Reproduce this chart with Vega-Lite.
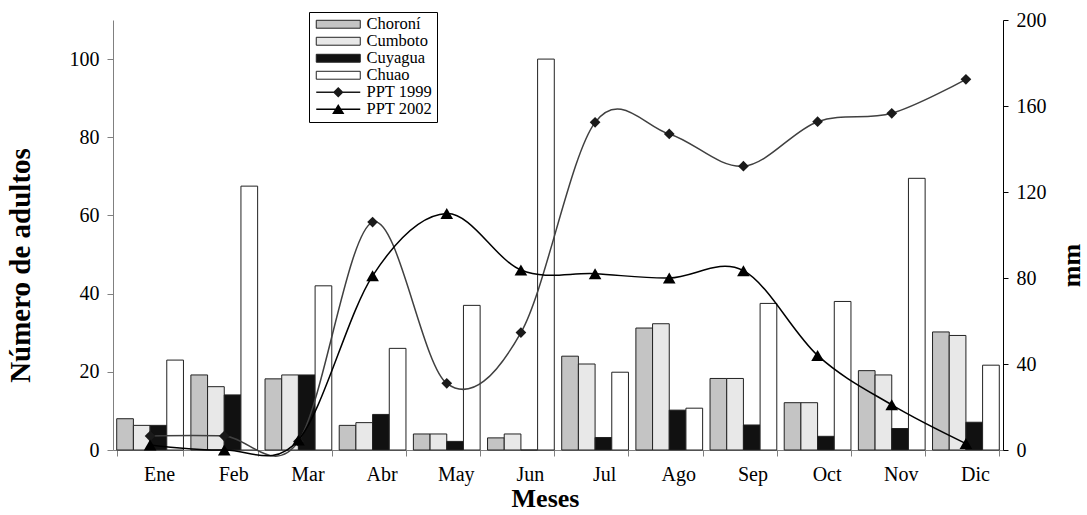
{
  "$schema": "https://vega.github.io/schema/vega-lite/v6.json",
  "width": 890,
  "height": 430,
  "autosize": {"type": "none"},
  "padding": {"left": 113, "top": 20, "right": 84, "bottom": 65},
  "background": "white",
  "config": {
    "view": {"stroke": null},
    "font": "Liberation Serif",
    "axis": {"labelFont": "Liberation Serif", "titleFont": "Liberation Serif", "labelFontSize": 20, "labelColor": "black", "titleColor": "black", "grid": false}
  },
  "datasets": {
    "barras": [
      {"mes": "Ene", "serie": "Choroní", "valor": 8.0}, {"mes": "Ene", "serie": "Cumboto", "valor": 6.3}, {"mes": "Ene", "serie": "Cuyagua", "valor": 6.3}, {"mes": "Ene", "serie": "Chuao", "valor": 23},
      {"mes": "Feb", "serie": "Choroní", "valor": 19.2}, {"mes": "Feb", "serie": "Cumboto", "valor": 16.2}, {"mes": "Feb", "serie": "Cuyagua", "valor": 14.1}, {"mes": "Feb", "serie": "Chuao", "valor": 67.5},
      {"mes": "Mar", "serie": "Choroní", "valor": 18.2}, {"mes": "Mar", "serie": "Cumboto", "valor": 19.2}, {"mes": "Mar", "serie": "Cuyagua", "valor": 19.2}, {"mes": "Mar", "serie": "Chuao", "valor": 42},
      {"mes": "Abr", "serie": "Choroní", "valor": 6.3}, {"mes": "Abr", "serie": "Cumboto", "valor": 7.0}, {"mes": "Abr", "serie": "Cuyagua", "valor": 9.1}, {"mes": "Abr", "serie": "Chuao", "valor": 26},
      {"mes": "May", "serie": "Choroní", "valor": 4.1}, {"mes": "May", "serie": "Cumboto", "valor": 4.1}, {"mes": "May", "serie": "Cuyagua", "valor": 2.2}, {"mes": "May", "serie": "Chuao", "valor": 37},
      {"mes": "Jun", "serie": "Choroní", "valor": 3.1}, {"mes": "Jun", "serie": "Cumboto", "valor": 4.1}, {"mes": "Jun", "serie": "Cuyagua", "valor": 0}, {"mes": "Jun", "serie": "Chuao", "valor": 100},
      {"mes": "Jul", "serie": "Choroní", "valor": 24}, {"mes": "Jul", "serie": "Cumboto", "valor": 22}, {"mes": "Jul", "serie": "Cuyagua", "valor": 3.2}, {"mes": "Jul", "serie": "Chuao", "valor": 19.9},
      {"mes": "Ago", "serie": "Choroní", "valor": 31.2}, {"mes": "Ago", "serie": "Cumboto", "valor": 32.3}, {"mes": "Ago", "serie": "Cuyagua", "valor": 10.2}, {"mes": "Ago", "serie": "Chuao", "valor": 10.7},
      {"mes": "Sep", "serie": "Choroní", "valor": 18.3}, {"mes": "Sep", "serie": "Cumboto", "valor": 18.3}, {"mes": "Sep", "serie": "Cuyagua", "valor": 6.4}, {"mes": "Sep", "serie": "Chuao", "valor": 37.5},
      {"mes": "Oct", "serie": "Choroní", "valor": 12.1}, {"mes": "Oct", "serie": "Cumboto", "valor": 12.1}, {"mes": "Oct", "serie": "Cuyagua", "valor": 3.5}, {"mes": "Oct", "serie": "Chuao", "valor": 38},
      {"mes": "Nov", "serie": "Choroní", "valor": 20.3}, {"mes": "Nov", "serie": "Cumboto", "valor": 19.2}, {"mes": "Nov", "serie": "Cuyagua", "valor": 5.5}, {"mes": "Nov", "serie": "Chuao", "valor": 69.5},
      {"mes": "Dic", "serie": "Choroní", "valor": 30.2}, {"mes": "Dic", "serie": "Cumboto", "valor": 29.3}, {"mes": "Dic", "serie": "Cuyagua", "valor": 7.1}, {"mes": "Dic", "serie": "Chuao", "valor": 21.7}
    ],
    "ppt": [
      {"mes": "Ene", "serie": "PPT 1999", "mm": 6.5}, {"mes": "Feb", "serie": "PPT 1999", "mm": 6.5}, {"mes": "Mar", "serie": "PPT 1999", "mm": 4},
      {"mes": "Abr", "serie": "PPT 1999", "mm": 106}, {"mes": "May", "serie": "PPT 1999", "mm": 31}, {"mes": "Jun", "serie": "PPT 1999", "mm": 54.6},
      {"mes": "Jul", "serie": "PPT 1999", "mm": 152.4}, {"mes": "Ago", "serie": "PPT 1999", "mm": 147}, {"mes": "Sep", "serie": "PPT 1999", "mm": 132},
      {"mes": "Oct", "serie": "PPT 1999", "mm": 152.7}, {"mes": "Nov", "serie": "PPT 1999", "mm": 156.6}, {"mes": "Dic", "serie": "PPT 1999", "mm": 172.4},
      {"mes": "Ene", "serie": "PPT 2002", "mm": 2.3}, {"mes": "Feb", "serie": "PPT 2002", "mm": 0}, {"mes": "Mar", "serie": "PPT 2002", "mm": 4.6},
      {"mes": "Abr", "serie": "PPT 2002", "mm": 81}, {"mes": "May", "serie": "PPT 2002", "mm": 110}, {"mes": "Jun", "serie": "PPT 2002", "mm": 83.7},
      {"mes": "Jul", "serie": "PPT 2002", "mm": 82}, {"mes": "Ago", "serie": "PPT 2002", "mm": 80}, {"mes": "Sep", "serie": "PPT 2002", "mm": 83.4},
      {"mes": "Oct", "serie": "PPT 2002", "mm": 44}, {"mes": "Nov", "serie": "PPT 2002", "mm": 21}, {"mes": "Dic", "serie": "PPT 2002", "mm": 3}
    ]
  },
  "layer": [
    {
      "data": {"name": "barras"},
      "mark": {"type": "bar", "stroke": "#222222", "strokeWidth": 1},
      "encoding": {
        "x": {
          "field": "mes", "type": "nominal",
          "sort": ["Ene", "Feb", "Mar", "Abr", "May", "Jun", "Jul", "Ago", "Sep", "Oct", "Nov", "Dic"],
          "scale": {"paddingInner": 0.1, "paddingOuter": 0.05},
          "axis": {"title": "Meses", "titleFontSize": 26, "titleFontWeight": "bold", "titleX": 432, "labelAngle": 0, "tickBand": "extent", "domainColor": "#808080", "tickColor": "#808080", "tickSize": 6, "labelPadding": 8, "labelOffset": 9, "titlePadding": 1}
        },
        "xOffset": {"field": "serie", "type": "nominal", "sort": ["Choroní", "Cumboto", "Cuyagua", "Chuao"], "scale": {"paddingInner": 0, "paddingOuter": 0}},
        "y": {
          "field": "valor", "type": "quantitative",
          "scale": {"domain": [0, 110], "nice": false},
          "axis": {"title": "Número de adultos", "titleFontSize": 29, "titleFontWeight": "bold", "titleY": 245, "values": [0, 20, 40, 60, 80, 100], "domainColor": "#808080", "tickColor": "#808080", "tickSize": 6, "labelPadding": 8, "titlePadding": 34}
        },
        "fill": {
          "field": "serie", "type": "nominal",
          "scale": {"domain": ["Choroní", "Cumboto", "Cuyagua", "Chuao", "PPT 1999", "PPT 2002"], "range": ["#c4c4c4", "#e8e8e8", "#111111", "#ffffff", "#1a1a1a", "#000000"]},
          "legend": {
            "orient": "none", "legendX": 196, "legendY": -8, "title": null,
            "strokeColor": "black", "fillColor": "white", "padding": 4,
            "labelFont": "Liberation Serif", "labelFontSize": 16.5, "labelColor": "black",
            "symbolSize": 1936, "symbolOffset": 17, "symbolStrokeColor": "#222222", "symbolStrokeWidth": 1, "symbolOpacity": 1,
            "rowPadding": 0, "labelOffset": 20,
            "encode": {"symbols": {"update": {
              "shape": {"signal": "datum.value === 'PPT 1999' ? 'M-1,-0.034H1V0.034H-1Z M0,-0.24L0.24,0L0,0.24L-0.24,0Z' : (datum.value === 'PPT 2002' ? 'M-1,-0.034H1V0.034H-1Z M0,-0.24L0.28,0.22L-0.28,0.22Z' : 'M-1,-0.18H1V0.18H-1Z')"},
              "strokeWidth": {"signal": "(datum.value === 'PPT 1999' || datum.value === 'PPT 2002') ? 0 : 1"}
            }}}
          }
        }
      }
    },
    {
      "data": {"name": "ppt"},
      "encoding": {
        "x": {
          "field": "mes", "type": "nominal",
          "sort": ["Ene", "Feb", "Mar", "Abr", "May", "Jun", "Jul", "Ago", "Sep", "Oct", "Nov", "Dic"],
          "scale": {"paddingInner": 0.1, "paddingOuter": 0.05},
          "axis": {"title": "Meses", "titleFontSize": 26, "titleFontWeight": "bold", "titleX": 432, "labelAngle": 0, "tickBand": "extent", "domainColor": "#808080", "tickColor": "#808080", "tickSize": 6, "labelPadding": 8, "labelOffset": 9, "titlePadding": 1}
        },
        "y": {
          "field": "mm", "type": "quantitative",
          "scale": {"domain": [0, 200], "nice": false},
          "axis": {"orient": "right", "title": "mm", "titleFontSize": 26, "titleFontWeight": "bold", "titleAngle": 270, "titleY": 245, "values": [0, 40, 80, 120, 160, 200], "domainColor": "black", "tickColor": "black", "tickSize": 5, "labelPadding": 8, "titlePadding": 38}
        }
      },
      "layer": [
        {
          "mark": {"type": "line", "interpolate": "cardinal", "tension": 0, "strokeWidth": 1.5, "clip": false},
          "encoding": {
            "stroke": {"field": "serie", "type": "nominal", "scale": {"domain": ["PPT 1999", "PPT 2002"], "range": ["#404040", "#000000"]}, "legend": null}
          }
        },
        {
          "mark": {"type": "point", "filled": true, "opacity": 1, "strokeWidth": 0},
          "encoding": {
            "shape": {"field": "serie", "type": "nominal", "scale": {"domain": ["PPT 1999", "PPT 2002"], "range": ["diamond", "triangle-up"]}, "legend": null},
            "size": {"field": "serie", "type": "nominal", "scale": {"domain": ["PPT 1999", "PPT 2002"], "range": [115, 160]}, "legend": null},
            "fill": {"field": "serie", "type": "nominal"}
          }
        }
      ]
    }
  ],
  "resolve": {"scale": {"y": "independent"}}
}
